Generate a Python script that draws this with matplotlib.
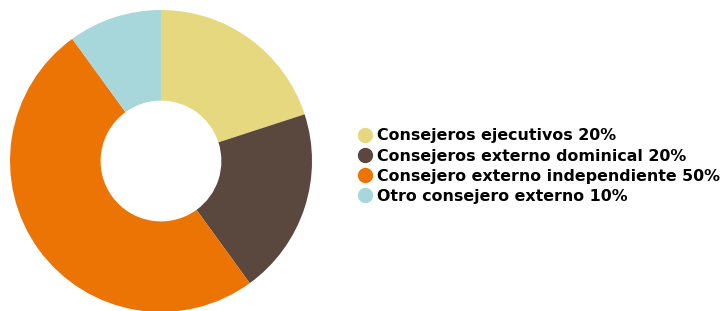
import matplotlib
matplotlib.use('Agg')
import matplotlib.pyplot as plt
from matplotlib.lines import Line2D

# datos
categorias = ['Consejeros ejecutivos', 'Consejeros externo dominical',
              'Consejero externo independiente', 'Otro consejero externo']
valores = [20, 20, 50, 10]
colores = ['#E6D87F', '#5A473D', '#EC7405', '#A7D7DB']

fig = plt.figure(figsize=(7.26, 3.11), dpi=100)

# donut
ax = fig.add_axes([10/726, -1/311, 302/726, 302/311])
ax.pie(valores, colors=colores, startangle=90, counterclock=False,
       radius=1.0, wedgeprops=dict(width=0.6, linewidth=0))
ax.set_xlim(-1, 1)
ax.set_ylim(-1, 1)
ax.set_aspect('equal')
ax.axis('off')

# leyenda
handles = [Line2D([0], [0], marker='o', linestyle='', markersize=10,
                  markerfacecolor=c, markeredgecolor=c) for c in colores]
labels = ['{} {}%'.format(cat, v) for cat, v in zip(categorias, valores)]
fig.legend(handles, labels, loc='center left', bbox_to_anchor=(0.481, 0.466),
           frameon=False, handletextpad=0.25, labelspacing=0.32,
           handlelength=1.0, borderpad=0,
           prop={'family': 'DejaVu Sans', 'weight': 'bold', 'size': 11.4})

plt.savefig('out.png', dpi=100)
